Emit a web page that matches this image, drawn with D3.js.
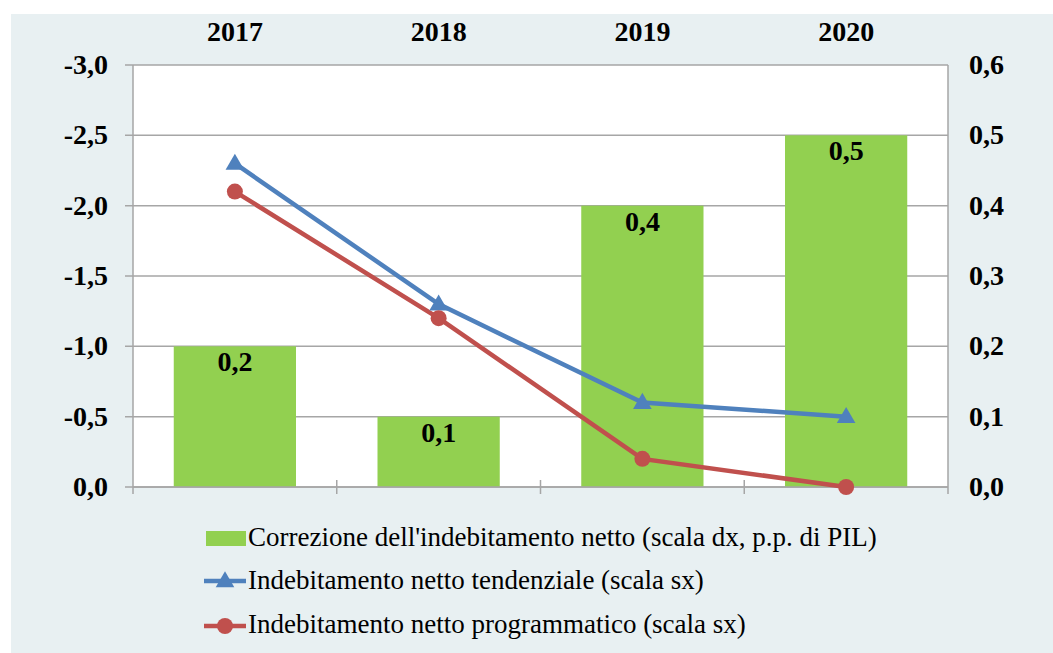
<!DOCTYPE html>
<html><head><meta charset="utf-8">
<script src="https://cdn.jsdelivr.net/npm/d3@7"></script>
</head><body style="margin:0">
<svg id="c" width="1053" height="653" font-family="Liberation Serif, serif"></svg>
<script>
const years = ["2017","2018","2019","2020"];
const correzione = [0.2, 0.1, 0.4, 0.5];
const tendenziale = [-2.3, -1.3, -0.6, -0.5];
const programmatico = [-2.1, -1.2, -0.2, 0.0];
const leftTicks = [0, -0.5, -1.0, -1.5, -2.0, -2.5, -3.0];
const rightTicks = [0, 0.1, 0.2, 0.3, 0.4, 0.5, 0.6];
const legendLabels = [
  "Correzione dell'indebitamento netto (scala dx, p.p. di PIL)",
  "Indebitamento netto tendenziale (scala sx)",
  "Indebitamento netto programmatico (scala sx)"
];

const fmt = v => d3.format(".1f")(v).replace(".", ",").replace("−","-");
const svg = d3.select("#c");
const L = 133, R = 948, T = 65, B = 487;
const GREEN = "#92D050", BLUE = "#4F81BD", RED = "#C0504D", GRID = "#A6A6A6";
const FONT = "Liberation Serif, serif";

svg.append("rect").attr("x", 11).attr("y", 14).attr("width", 1042).attr("height", 639).attr("fill", "#E8F0F2");
svg.append("rect").attr("x", L).attr("y", T).attr("width", R - L).attr("height", B - T).attr("fill", "#fff");

const x = d3.scaleBand().domain(years).range([L, R]).paddingInner(0.4).paddingOuter(0.2);
const yL = d3.scaleLinear().domain([0, -3]).range([B, T]);
const yR = d3.scaleLinear().domain([0, 0.6]).range([B, T]);

// gridlines
svg.append("g").selectAll("line").data(leftTicks).join("line")
  .attr("x1", L - 8).attr("x2", R).attr("y1", d => yL(d)).attr("y2", d => yL(d))
  .attr("stroke", GRID).attr("stroke-width", 1.5);

// bars
svg.append("g").selectAll("rect").data(years).join("rect")
  .attr("x", d => x(d)).attr("width", x.bandwidth())
  .attr("y", (d, i) => yR(correzione[i])).attr("height", (d, i) => yR(0) - yR(correzione[i]))
  .attr("fill", GREEN);

// axes lines
svg.append("line").attr("x1", L).attr("x2", L).attr("y1", T).attr("y2", B + 7).attr("stroke", GRID).attr("stroke-width", 1.5);
svg.append("line").attr("x1", R).attr("x2", R).attr("y1", T).attr("y2", B + 7).attr("stroke", GRID).attr("stroke-width", 1.5);
svg.append("line").attr("x1", L).attr("x2", R).attr("y1", B).attr("y2", B).attr("stroke", GRID).attr("stroke-width", 1.5);
const step = x.step();
const bounds = years.map((d, i) => L + i * step).concat([R]);
svg.append("g").selectAll("line").data(bounds.slice(1, -1)).join("line")
  .attr("x1", d => d).attr("x2", d => d).attr("y1", B - 7).attr("y2", B + 7)
  .attr("stroke", GRID).attr("stroke-width", 1.5);

// tick labels
svg.append("g").selectAll("text").data(leftTicks).join("text")
  .attr("x", 108).attr("y", d => yL(d) + 9).attr("text-anchor", "end")
  .attr("font-family", FONT).attr("font-weight", "bold").attr("font-size", 28)
  .text(d => fmt(d));
svg.append("g").selectAll("text").data(rightTicks).join("text")
  .attr("x", 969).attr("y", d => yR(d) + 9).attr("text-anchor", "start")
  .attr("font-family", FONT).attr("font-weight", "bold").attr("font-size", 28)
  .text(d => fmt(d));
svg.append("g").selectAll("text").data(years).join("text")
  .attr("x", d => x(d) + x.bandwidth() / 2).attr("y", 41).attr("text-anchor", "middle")
  .attr("font-family", FONT).attr("font-weight", "bold").attr("font-size", 28)
  .text(d => d);

// bar labels
svg.append("g").selectAll("text").data(years).join("text")
  .attr("x", d => x(d) + x.bandwidth() / 2).attr("y", (d, i) => yR(correzione[i]) + 25)
  .attr("text-anchor", "middle")
  .attr("font-family", FONT).attr("font-weight", "bold").attr("font-size", 28)
  .text((d, i) => fmt(correzione[i]));

// lines
const cx = d => x(d) + x.bandwidth() / 2;
const line = d3.line().x(d => cx(d.y)).y(d => yL(d.v));
const tData = years.map((y, i) => ({y, v: tendenziale[i]}));
const pData = years.map((y, i) => ({y, v: programmatico[i]}));
svg.append("path").datum(tData).attr("d", line).attr("fill", "none").attr("stroke", BLUE).attr("stroke-width", 4.5);
svg.append("path").datum(pData).attr("d", line).attr("fill", "none").attr("stroke", RED).attr("stroke-width", 4.5);
const tri = d3.symbol().type(d3.symbolTriangle).size(150);
svg.append("g").selectAll("path").data(tData).join("path")
  .attr("d", tri).attr("transform", d => `translate(${cx(d.y)},${yL(d.v) + 1})`).attr("fill", BLUE);
svg.append("g").selectAll("circle").data(pData).join("circle")
  .attr("cx", d => cx(d.y)).attr("cy", d => yL(d.v)).attr("r", 8).attr("fill", RED);

// legend
const lg = svg.append("g");
const rows = [546, 589, 633];
lg.append("rect").attr("x", 206).attr("y", 531).attr("width", 40).attr("height", 15).attr("fill", GREEN);
lg.append("line").attr("x1", 204).attr("x2", 246).attr("y1", 581).attr("y2", 581).attr("stroke", BLUE).attr("stroke-width", 4.5);
lg.append("path").attr("d", tri).attr("transform", "translate(225,582)").attr("fill", BLUE);
lg.append("line").attr("x1", 204).attr("x2", 246).attr("y1", 626).attr("y2", 626).attr("stroke", RED).attr("stroke-width", 4.5);
lg.append("circle").attr("cx", 225).attr("cy", 626).attr("r", 8).attr("fill", RED);
lg.selectAll("text").data(legendLabels).join("text")
  .attr("x", 248).attr("y", (d, i) => rows[i])
  .attr("font-family", FONT).attr("font-size", 27)
  .text(d => d);
</script>
</body></html>
